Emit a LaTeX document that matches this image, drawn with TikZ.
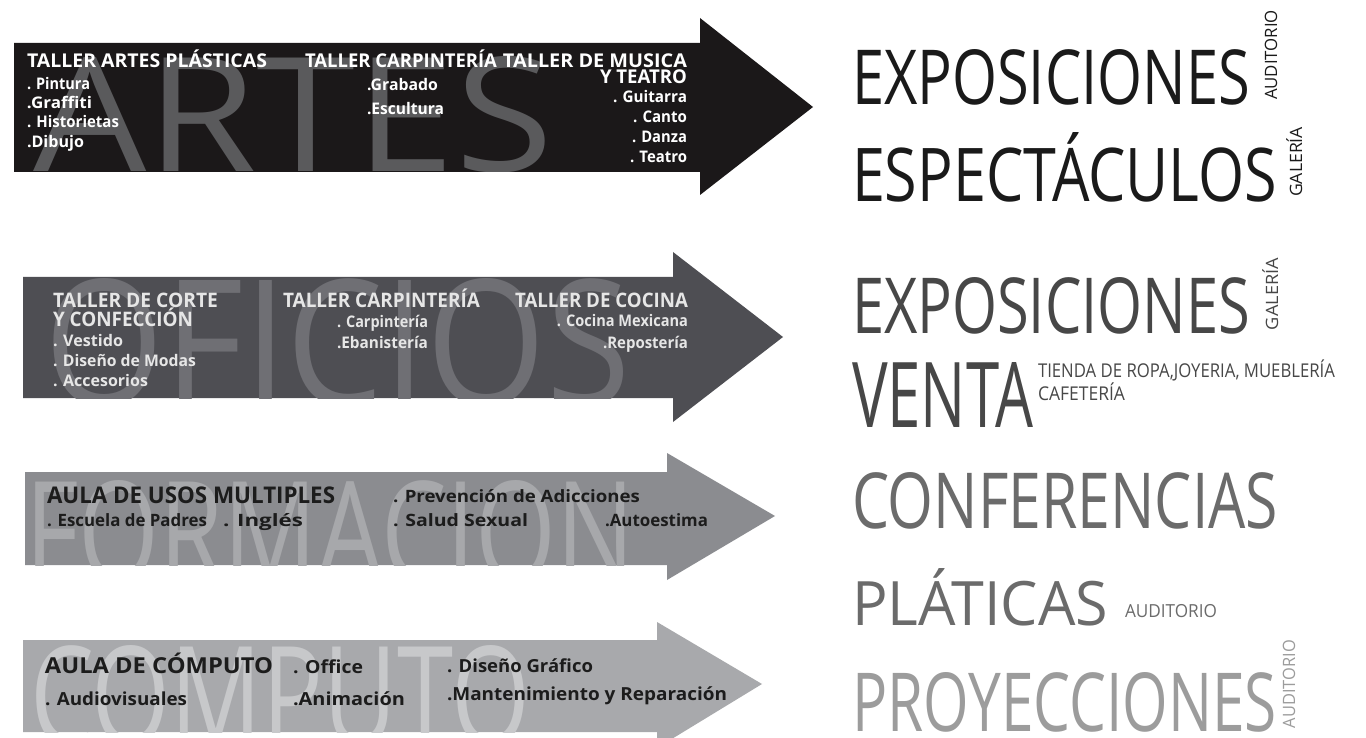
\documentclass[tikz,border=0pt]{standalone}
\usepackage{fontspec}
\setmainfont{Open Sans}
\usepackage{graphicx}
\definecolor{arrA}{HTML}{1B1819}
\definecolor{arrB}{HTML}{4E4E53}
\definecolor{arrC}{HTML}{8B8C90}
\definecolor{arrD}{HTML}{A8A9AC}
\definecolor{wmA}{HTML}{5A5A5C}
\definecolor{wmB}{HTML}{6F6F74}
\definecolor{wmC}{HTML}{A7A8AB}
\definecolor{wmD}{HTML}{C7C8CA}
\definecolor{txB}{HTML}{E6E6E6}
\definecolor{txD}{HTML}{1C1C1C}
\definecolor{rA}{HTML}{1A1A1A}
\definecolor{rB}{HTML}{474747}
\definecolor{rC}{HTML}{6B6B6B}
\definecolor{rD}{HTML}{9C9C9C}
\newcommand{\myfs}[1]{\fontsize{#1}{#1}\selectfont}
\newcommand{\myW}[2]{\resizebox{#1pt}{\height}{#2}}
\newcommand{\myWH}[3]{\resizebox{#1pt}{#2pt}{#3}}
\begin{document}
\begin{tikzpicture}[x=1pt,y=-1pt,
  every node/.style={inner sep=0pt,outer sep=0pt},
  lw/.style={anchor=base west},
  le/.style={anchor=base east},
  wa/.style={lw,text=white,font=\bfseries},
  wae/.style={le,text=white,font=\bfseries},
  wb/.style={lw,text=txB,font=\bfseries},
  wbe/.style={le,text=txB,font=\bfseries},
  wd/.style={lw,text=txD,font=\bfseries},
  big/.style={lw}]
\useasboundingbox (0,0) rectangle (1366,738);
\fill[white] (0,0) rectangle (1366,738);

% ---------------- Arrow 1 : ARTES
\fill[arrA] (14,43) -- (700,43) -- (700,18) -- (813,107) -- (700,195) -- (700,172) -- (14,172) -- cycle;
\begin{scope}
\clip (14,43) rectangle (700,172);
\node[big,text=wmA] (wmA) at (33,172) {\myWH{520}{115}{ARTES}};
\end{scope}
\node[wa] (a1h) at (27,68) {\myfs{19}\myW{240}{TALLER ARTES PLÁSTICAS}};
\node[wa] (a1i1) at (27,90) {\myfs{16}\myW{63}{. Pintura}};
\node[wa] (a1i2) at (27,109) {\myfs{16}\myW{65}{.Graffiti}};
\node[wa] (a1i3) at (27,128) {\myfs{16}\myW{92}{. Historietas}};
\node[wa] (a1i4) at (27,148) {\myfs{16}\myW{57}{.Dibujo}};
\node[wa] (a2h) at (305,68) {\myfs{19}\myW{192}{TALLER CARPINTERÍA}};
\node[wa] (a2i1) at (367,91) {\myfs{16}\myW{71}{.Grabado}};
\node[wa] (a2i2) at (367,115) {\myfs{16}\myW{77}{.Escultura}};
\node[wae] (a3h) at (687,68) {\myfs{19}\myW{184}{TALLER DE MUSICA}};
\node[wae] (a3h2) at (687,84) {\myfs{19}\myW{87}{Y TEATRO}};
\node[wae] (a3i1) at (687,103) {\myfs{16}\myW{74}{. Guitarra}};
\node[wae] (a3i2) at (687,123) {\myfs{16}\myW{54}{. Canto}};
\node[wae] (a3i3) at (687,143) {\myfs{16}\myW{55}{. Danza}};
\node[wae] (a3i4) at (687,163) {\myfs{16}\myW{57}{. Teatro}};

% ---------------- Arrow 2 : OFICIOS
\fill[arrB] (23,277) -- (673,277) -- (673,252) -- (783,337) -- (673,422) -- (673,398) -- (23,398) -- cycle;
\begin{scope}
\clip (23,277) rectangle (673,398);
\node[big,text=wmB] (wmB) at (45,405) {\myWH{585}{127}{OFICIOS}};
\end{scope}
\node[wb] (b1h) at (53,307) {\myfs{20}\myW{165}{TALLER DE CORTE}};
\node[wb] (b1h2) at (53,326) {\myfs{20}\myW{140}{Y CONFECCIÓN}};
\node[wb] (b1i1) at (53,346) {\myfs{16}\myW{70}{. Vestido}};
\node[wb] (b1i2) at (53,366) {\myfs{16}\myW{143}{. Diseño de Modas}};
\node[wb] (b1i3) at (53,386) {\myfs{16}\myW{95}{. Accesorios}};
\node[wb] (b2h) at (283,307) {\myfs{20}\myW{197}{TALLER CARPINTERÍA}};
\node[wb] (b2i1) at (337,327) {\myfs{16}\myW{91}{. Carpintería}};
\node[wb] (b2i2) at (337,348) {\myfs{16}\myW{91}{.Ebanistería}};
\node[wbe] (b3h) at (688,307) {\myfs{20}\myW{173}{TALLER DE COCINA}};
\node[wbe] (b3i1) at (688,326) {\myfs{16}\myW{131}{. Cocina Mexicana}};
\node[wbe] (b3i2) at (688,348) {\myfs{16}\myW{85}{.Repostería}};

% ---------------- Arrow 3 : FORMACION
\fill[arrC] (25,472) -- (667,472) -- (667,453) -- (775,516) -- (667,580) -- (667,565) -- (25,565) -- cycle;
\begin{scope}
\clip (25,472) rectangle (667,565);
\node[big,text=wmC] (wmC) at (25,582) {\myWH{610}{102}{FORMACION}};
\end{scope}
\node[wd] (c1h) at (47,503) {\myfs{23}\myW{288}{AULA DE USOS MULTIPLES}};
\node[wd] (c1i1) at (47,526) {\myfs{17}\myW{160}{. Escuela de Padres}};
\node[wd] (c1i2) at (223,526) {\myfs{17}\myW{80}{. Inglés}};
\node[wd] (c2i1) at (393,502) {\myfs{17}\myW{247}{. Prevención de Adicciones}};
\node[wd] (c2i2) at (393,526) {\myfs{17}\myW{135}{. Salud Sexual}};
\node[wd] (c2i3) at (605,526) {\myfs{17}\myW{103}{.Autoestima}};

% ---------------- Arrow 4 : COMPUTO
\fill[arrD] (23,640) -- (657,640) -- (657,622) -- (762,684) -- (657,748) -- (657,732) -- (23,732) -- cycle;
\begin{scope}
\clip (23,640) rectangle (657,732);
\node[big,text=wmD] (wmD) at (30,745) {\myWH{500}{100}{COMPUTO}};
\end{scope}
\node[wd] (d1h) at (45,673) {\myfs{22}\myW{228}{AULA DE CÓMPUTO}};
\node[wd] (d1i1) at (293,673) {\myfs{18}\myW{70}{. Office}};
\node[wd] (d1i2) at (45,705) {\myfs{18}\myW{142}{. Audiovisuales}};
\node[wd] (d1i3) at (293,705) {\myfs{18}\myW{112}{.Animación}};
\node[wd] (d2i1) at (447,672) {\myfs{18}\myW{146}{. Diseño Gráfico}};
\node[wd] (d2i2) at (447,700) {\myfs{18}\myW{280}{.Mantenimiento y Reparación}};

% ---------------- Right column
\node[big,text=rA] (r1) at (852,105) {\myfs{60}\myWH{398}{55}{EXPOSICIONES}};
\node[lw,text=rA,rotate=90] (r1s) at (1277,100) {\myfs{17}\myW{90}{AUDITORIO}};
\node[big,text=rA] (r2) at (852,202) {\myfs{60}\myWH{425}{69}{ESPECTÁCULOS}};
\node[lw,text=rA,rotate=90] (r2s) at (1302,197) {\myfs{17}\myW{70}{GALERÍA}};

\node[big,text=rB] (r3) at (852,333) {\myfs{60}\myWH{398}{56}{EXPOSICIONES}};
\node[lw,text=rB,rotate=90] (r3s) at (1278,330) {\myfs{17}\myW{72}{GALERÍA}};
\node[big,text=rB] (r4) at (852,427) {\myfs{60}\myWH{181}{65}{VENTA}};
\node[lw,text=rB] (r4s1) at (1038,377) {\myfs{19}\myW{297}{TIENDA DE ROPA,JOYERIA, MUEBLERÍA}};
\node[lw,text=rB] (r4s2) at (1038,400) {\myfs{19}\myW{87}{CAFETERÍA}};

\node[big,text=rC] (r5) at (852,528) {\myfs{60}\myWH{426}{56}{CONFERENCIAS}};
\node[big,text=rC] (r6) at (852,625) {\myfs{60}\myWH{256}{57}{PLÁTICAS}};
\node[lw,text=rC] (r6s) at (1125,617) {\myfs{18}\myW{92}{AUDITORIO}};

\node[big,text=rD] (r7) at (852,731) {\myfs{60}\myWH{425}{59}{PROYECCIONES}};
\node[lw,text=rD,rotate=90] (r7s) at (1295,728) {\myfs{17}\myW{88}{AUDITORIO}};
\end{tikzpicture}
\end{document}
